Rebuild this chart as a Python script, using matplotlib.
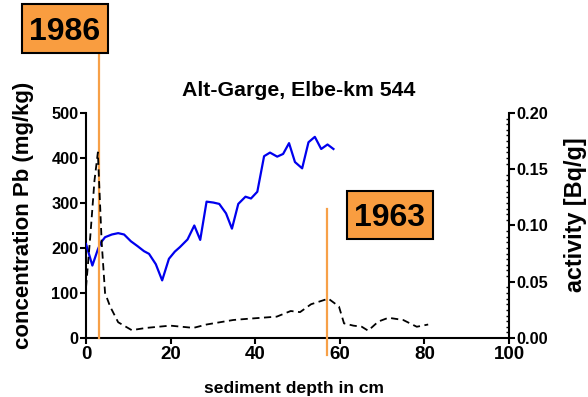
import matplotlib.pyplot as plt
from matplotlib.patches import Rectangle
from matplotlib.ticker import MultipleLocator

plt.rcParams['font.family'] = ['Liberation Sans', 'DejaVu Sans']
plt.rcParams['font.weight'] = 'bold'

# Pb concentration profile (mg/kg) over depth (cm)
pb_depth = [0.0, 1.5, 2.8, 3.5, 4.5, 6.1, 7.6, 9.0, 10.6, 12.2, 13.7, 14.9, 16.5, 18.0,
            19.6, 21.0, 22.2, 24.0, 25.6, 27.0, 28.5, 30.1, 31.5, 33.1, 34.5, 36.0,
            37.7, 39.0, 40.5, 42.1, 43.5, 45.2, 46.6, 48.0, 49.4, 51.1, 52.6, 54.1,
            55.6, 57.1, 58.5]
pb_conc = [209, 161, 197, 212, 224, 230, 233, 230, 215, 204, 193, 187, 164, 128,
           176, 192, 202, 219, 250, 218, 303, 301, 298, 277, 243, 298,
           314, 310, 325, 404, 412, 403, 409, 433, 391, 377, 435, 447,
           420, 430, 420]

# Cs-137 activity (Bq/g) over depth (cm)
act_depth = [0.0, 1.0, 2.0, 2.8, 3.7, 4.5, 5.7, 7.6, 10.8, 14.3, 19.9, 25.4, 28.5, 34.8,
             38.0, 45.1, 48.4, 50.6, 53.2, 57.3, 59.8, 61.0, 63.2, 65.2, 66.7, 69.1,
             71.5, 75.0, 78.2, 80.9]
activity = [0.045, 0.09, 0.14, 0.165, 0.085, 0.040, 0.028, 0.014, 0.007, 0.009, 0.011,
            0.009, 0.012, 0.016, 0.017, 0.019, 0.024, 0.023, 0.030, 0.035, 0.028, 0.013,
            0.011, 0.010, 0.0065, 0.0146, 0.018, 0.016, 0.010, 0.012]

# dating markers: (label, depth)
markers = [('1986', 3.07), ('1963', 56.9)]

orange = '#F7A047'
box_fill = '#F99D40'

fig = plt.figure(figsize=(5.88, 3.97), dpi=100)
ax = fig.add_axes([0.1463, 0.1486, 0.7193, 0.5668])
ax2 = ax.twinx()

ax.plot(pb_depth, pb_conc, color='#0000EE', lw=1.6, zorder=3)
ax2.plot(act_depth, activity, color='black', lw=1.3, dashes=(4, 2.5))

ax.set_xlim(0, 100)
ax.set_ylim(0, 500)
ax2.set_ylim(0, 0.20)
ax.xaxis.set_major_locator(MultipleLocator(20))
ax.yaxis.set_major_locator(MultipleLocator(100))
ax2.yaxis.set_major_locator(MultipleLocator(0.05))
ax2.yaxis.set_minor_locator(MultipleLocator(0.005))
ax2.yaxis.set_major_formatter(lambda v, p: f'{v:.2f}')

for a in (ax, ax2):
    a.spines['top'].set_visible(False)
    for s in a.spines.values():
        s.set_linewidth(1.5)
    a.tick_params(which='major', length=4, width=1.5, labelsize=11.8, pad=1.5)
ax.tick_params(axis='x', labelsize=13.5, pad=2)
ax.spines['right'].set_visible(False)
ax2.spines['left'].set_visible(False)
ax2.spines['bottom'].set_visible(False)
ax2.tick_params(which='minor', direction='in', length=2, width=1)

ax.set_xlabel('sediment depth in cm', fontsize=12.6, fontweight='bold')
ax.xaxis.set_label_coords(0.492, -0.19)
ax.set_ylabel('concentration Pb (mg/kg)', fontsize=16, fontweight='bold')
ax.yaxis.set_label_coords(-0.149, 0.547)
ax2.set_ylabel('activity [Bq/g]', fontsize=16.8, fontweight='bold')
ax2.yaxis.set_label_coords(1.157, 0.547)
ax2.yaxis.label.set_va('center')
ax.yaxis.label.set_va('center')
ax.text(0.502, 1.077, 'Alt-Garge, Elbe-km 544', transform=ax.transAxes,
        fontsize=15.3, fontweight='bold', ha='center', va='baseline')

# vertical marker lines
ax.axvline(markers[0][1], ymin=0, ymax=1.258, color=orange, lw=1.6, clip_on=False, zorder=4)
ax.axvline(markers[1][1], ymin=-0.076, ymax=0.573, color=orange, lw=1.6, clip_on=False, zorder=4)

# label boxes in figure pixels: (x0, y0_from_top, w, h)
boxes = [(22, 4, 86, 49), (347, 191, 86, 48)]
W, H = 588, 397
for (label, _), (bx, by, bw, bh) in zip(markers, boxes):
    fig.patches.append(Rectangle((bx / W, 1 - (by + bh) / H), bw / W, bh / H,
                                 transform=fig.transFigure, facecolor=box_fill,
                                 edgecolor='black', lw=1.5))
    fig.text((bx + bw / 2) / W, 1 - (by + bh / 2) / H, label, fontsize=23,
             fontweight='bold', ha='center', va='center_baseline')

fig.savefig('out.png', dpi=100)
